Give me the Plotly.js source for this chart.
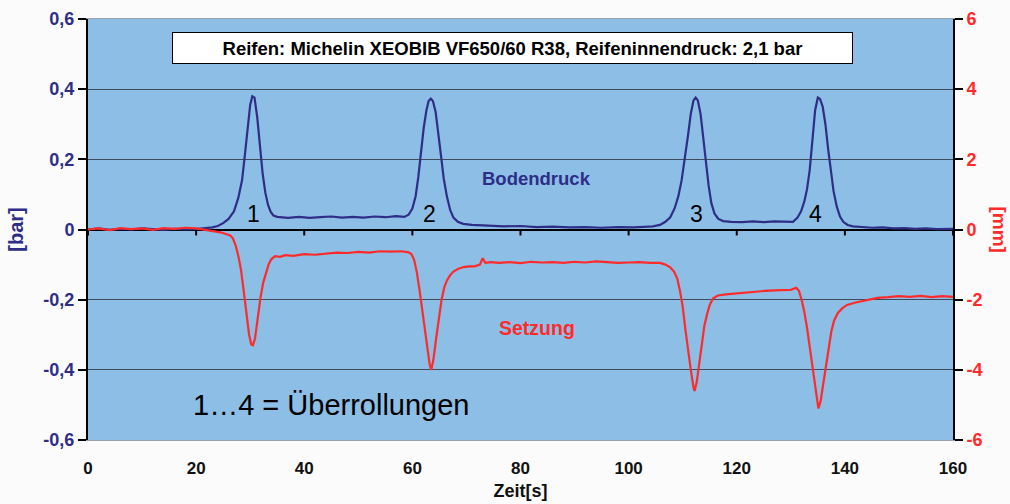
<!DOCTYPE html>
<html>
<head>
<meta charset="utf-8">
<script src="https://cdn.plot.ly/plotly-3.0.1.min.js"></script>
<style>body{margin:0;background:#fbfbfb;}</style>
</head>
<body>
<div id="chart" style="width:1010px;height:504px;"></div>
<script>
// Bodendruck [bar]
const tBoden = [0,2,4,6,8,10,12,14,16,18,20,22,23,24,25,26,27,27.8,28.5,29.0,29.5,30.0,30.4,30.8,31.3,31.8,32.3,32.8,33.3,33.8,34.3,35,37,39,41,43,45,47,49,51,53,55,57,58.5,59.3,60.0,60.6,61.1,61.6,62.1,62.6,63.0,63.4,63.8,64.3,64.8,65.3,65.8,66.4,67.0,67.6,68.4,69.4,71,74,77,80,83,86,89,92,95,98,101,104.5,105.8,106.8,107.7,108.5,109.2,109.8,110.4,111.0,111.5,112.0,112.4,112.8,113.3,113.8,114.3,114.8,115.3,115.9,116.6,117.5,119,121,123,125,127,129,130.4,131.2,131.9,132.5,133.0,133.5,134.0,134.5,135.0,135.4,135.9,136.4,136.9,137.4,137.9,138.5,139.1,139.7,140.5,141.5,143,145,147,149,151,153,155,157,160];
const vBoden = [0.0,0.003,-0.001,0.002,0.0,0.003,0.001,-0.001,0.002,0.0,0.001,0.003,0.006,0.010,0.018,0.030,0.052,0.09,0.141,0.21,0.29,0.355,0.38,0.376,0.32,0.235,0.16,0.105,0.07,0.05,0.04,0.036,0.033,0.036,0.033,0.035,0.037,0.034,0.036,0.034,0.037,0.035,0.038,0.036,0.042,0.06,0.095,0.15,0.22,0.29,0.34,0.366,0.373,0.366,0.335,0.28,0.21,0.145,0.093,0.055,0.034,0.022,0.016,0.013,0.011,0.009,0.010,0.007,0.008,0.006,0.007,0.005,0.007,0.006,0.009,0.013,0.022,0.035,0.06,0.095,0.14,0.2,0.27,0.33,0.368,0.376,0.368,0.33,0.26,0.19,0.125,0.075,0.045,0.03,0.024,0.022,0.021,0.023,0.021,0.023,0.022,0.022,0.033,0.052,0.08,0.115,0.17,0.26,0.34,0.376,0.372,0.35,0.3,0.23,0.165,0.11,0.065,0.037,0.022,0.013,0.009,0.007,0.005,0.006,0.003,0.004,0.002,0.003,0.001,0.002,0.0];
// Setzung [mm]
const tSetz = [0,2,4,6,8,10,12,14,16,18,20,21.5,22.5,23.5,24.5,25.5,26.3,26.8,27.3,27.8,28.3,28.8,29.3,29.8,30.2,30.5,30.9,31.4,31.9,32.4,32.9,33.4,33.9,34.6,35.5,36.5,38,40,42,44,46,48,50,52,54,56,58,59.3,59.8,60.3,60.8,61.3,61.8,62.3,62.8,63.2,63.5,63.9,64.4,64.9,65.4,65.9,66.4,67.0,67.6,68.5,69.5,70.5,71.5,72.5,73.0,73.5,74.5,76,78,80,82,84,86,88,90,92,94,96,98,100,102,104,105.8,106.8,107.7,108.4,109.0,109.5,110.0,110.5,111.0,111.5,112.0,112.2,112.6,113.0,113.5,114.0,114.5,115.0,115.6,116.5,118,120,122,124,126,128,130,131.0,131.5,132.0,132.5,133.0,133.5,134.0,134.5,134.9,135.1,135.5,136.0,136.5,137.0,137.5,138.0,138.7,139.5,140.4,142,144,146,148,150,152,154,156,158,160];
const vSetz = [0.0,0.03,-0.02,0.04,0.01,0.03,-0.01,0.04,0.02,0.05,0.03,0.0,-0.02,-0.05,-0.08,-0.13,-0.17,-0.25,-0.45,-0.75,-1.15,-1.75,-2.45,-3.0,-3.28,-3.3,-3.1,-2.5,-1.95,-1.52,-1.22,-1.0,-0.85,-0.76,-0.78,-0.73,-0.75,-0.70,-0.72,-0.68,-0.66,-0.67,-0.64,-0.66,-0.62,-0.63,-0.62,-0.65,-0.7,-0.85,-1.2,-1.7,-2.25,-2.85,-3.45,-3.85,-4.0,-3.7,-3.1,-2.5,-2.0,-1.65,-1.45,-1.3,-1.2,-1.12,-1.07,-1.05,-1.05,-1.0,-0.82,-0.95,-0.93,-0.95,-0.93,-0.96,-0.92,-0.94,-0.93,-0.95,-0.92,-0.94,-0.91,-0.93,-0.95,-0.94,-0.93,-0.95,-0.95,-1.0,-1.08,-1.2,-1.4,-1.75,-2.2,-2.85,-3.5,-4.0,-4.5,-4.6,-4.35,-3.85,-3.25,-2.75,-2.42,-2.15,-1.97,-1.88,-1.85,-1.82,-1.78,-1.76,-1.74,-1.73,-1.72,-1.66,-1.75,-2.0,-2.35,-2.8,-3.35,-3.95,-4.5,-5.0,-5.1,-4.9,-4.4,-3.85,-3.35,-2.9,-2.6,-2.38,-2.25,-2.15,-2.08,-2.01,-1.95,-1.93,-1.9,-1.92,-1.89,-1.93,-1.9,-1.92];

const xTicks = [0,20,40,60,80,100,120,140,160];
const yTickVals = [-0.6,-0.4,-0.2,0,0.2,0.4,0.6];
const yTickText = ['-0,6','-0,4','-0,2','0','0,2','0,4','0,6'];
const y2TickVals = [-6,-4,-2,0,2,4,6];
const y2TickText = ['-6','-4','-2','0','2','4','6'];

const navy = '#2e2e86';
const red = '#ff2a2a';
const font = 'Arial, "Liberation Sans", sans-serif';

const traces = [
  // tick marks of the axis that crosses at 0 (drawn as downward error bars)
  {x: xTicks, y: xTicks.map(() => 0), type: 'scatter', mode: 'markers',
   marker: {size: 1, color: 'rgba(0,0,0,0)'}, hoverinfo: 'skip',
   error_y: {type: 'data', symmetric: false, array: xTicks.map(() => 0), arrayminus: xTicks.map(() => 0.017),
             thickness: 2, width: 0, color: '#000'},
   xaxis: 'x', yaxis: 'y'},
  {x: tBoden, y: vBoden, type: 'scatter', mode: 'lines', name: 'Bodendruck',
   line: {color: navy, width: 2.2}, xaxis: 'x', yaxis: 'y'},
  {x: tSetz, y: vSetz, type: 'scatter', mode: 'lines', name: 'Setzung',
   line: {color: red, width: 2.2}, xaxis: 'x', yaxis: 'y2'}
];

const layout = {
  width: 1010, height: 504,
  margin: {l: 88, r: 57, t: 19, b: 64},
  paper_bgcolor: '#fbfbfb',
  plot_bgcolor: '#8cbee6',
  showlegend: false,
  font: {family: font},
  xaxis: {
    range: [0,160], tickvals: xTicks, ticktext: xTicks.map(String),
    ticks: 'outside', ticklen: 13, tickcolor: 'rgba(0,0,0,0)',
    tickfont: {family: font, size: 17, color: '#111', weight: 'bold'},
    showgrid: false, zeroline: false,
    showline: true, linecolor: '#9aa3ab', linewidth: 1, mirror: true,
    title: {text: 'Zeit[s]', font: {family: font, size: 18, color: '#111', weight: 'bold'}, standoff: 6},
    fixedrange: true
  },
  yaxis: {
    range: [-0.6,0.6], tickvals: yTickVals, ticktext: yTickText,
    ticks: 'outside', ticklen: 8, tickwidth: 2, tickcolor: '#000',
    tickfont: {family: font, size: 18, color: navy, weight: 'bold'},
    showgrid: true, gridcolor: '#3d4b5c', gridwidth: 1,
    zeroline: true, zerolinecolor: '#000', zerolinewidth: 2,
    showline: true, linecolor: '#000', linewidth: 2,
    title: {text: '[bar]', font: {family: font, size: 20, color: navy, weight: 'bold'}, standoff: 14},
    fixedrange: true
  },
  yaxis2: {
    overlaying: 'y', side: 'right', anchor: 'x', range: [-6,6], tickvals: y2TickVals, ticktext: y2TickText,
    ticks: 'outside', ticklen: 8, tickwidth: 2, tickcolor: '#000',
    tickfont: {family: font, size: 18, color: red, weight: 'bold'},
    showgrid: false, zeroline: false,
    showline: true, linecolor: '#000', linewidth: 2
  },
  annotations: [
    {xref: 'paper', yref: 'paper', x: 0.4908, y: 0.931, xanchor: 'center', yanchor: 'middle',
     text: 'Reifen: Michelin XEOBIB VF650/60 R38, Reifeninnendruck: 2,1 bar', showarrow: false,
     font: {family: font, size: 18.5, color: '#000', weight: 'bold'},
     bgcolor: '#ffffff', bordercolor: '#000', borderwidth: 1, borderpad: 2, width: 675, height: 26},
    {xref: 'x', yref: 'y', x: 83, y: 0.145, text: 'Bodendruck', showarrow: false,
     font: {family: font, size: 18.5, color: navy, weight: 'bold'}},
    {xref: 'x', yref: 'y', x: 83, y: -0.28, text: 'Setzung', showarrow: false,
     font: {family: font, size: 19.5, color: red, weight: 'bold'}},
    {xref: 'x', yref: 'y', x: 44.9, y: -0.5, text: '1…4 = Überrollungen', showarrow: false,
     font: {family: font, size: 29, color: '#000'}},
    {xref: 'x', yref: 'y', x: 30.6, y: 0.045, text: '1', showarrow: false, font: {family: font, size: 23, color: '#000'}},
    {xref: 'x', yref: 'y', x: 63.2, y: 0.045, text: '2', showarrow: false, font: {family: font, size: 23, color: '#000'}},
    {xref: 'x', yref: 'y', x: 112.6, y: 0.045, text: '3', showarrow: false, font: {family: font, size: 23, color: '#000'}},
    {xref: 'x', yref: 'y', x: 134.6, y: 0.045, text: '4', showarrow: false, font: {family: font, size: 23, color: '#000'}},
    {xref: 'paper', yref: 'paper', x: 1, xshift: 46, y: 0.5, xanchor: 'center', yanchor: 'middle',
     text: '[mm]', textangle: 90, showarrow: false,
     font: {family: font, size: 19, color: red, weight: 'bold'}}
  ]
};

Plotly.newPlot('chart', traces, layout, {staticPlot: true, displayModeBar: false});
</script>
</body>
</html>
